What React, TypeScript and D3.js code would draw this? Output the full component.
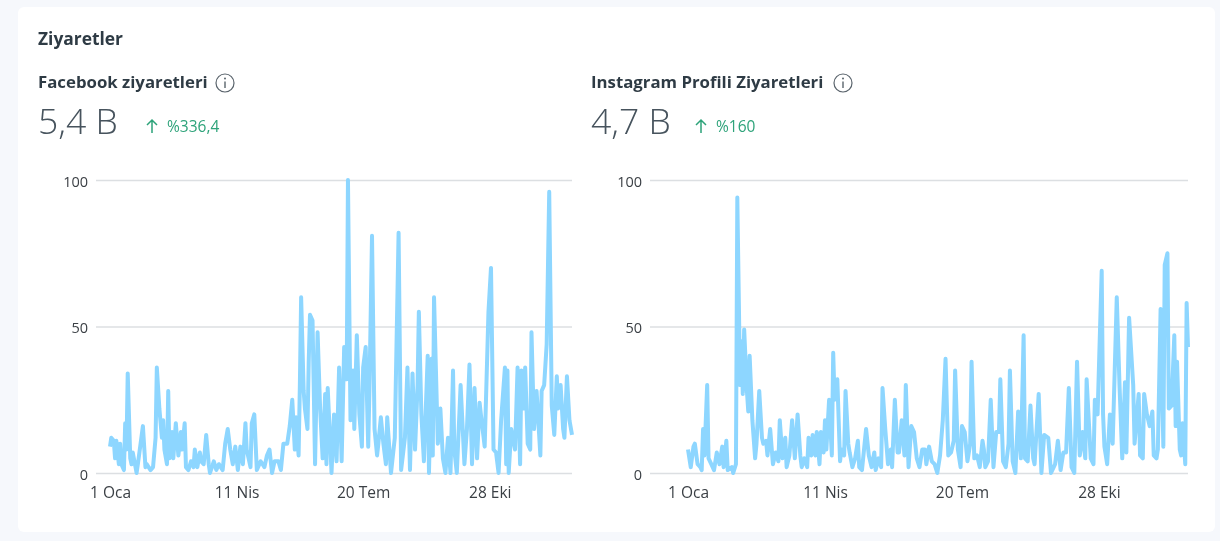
import React, { useEffect, useRef } from 'react'
import * as d3 from 'd3'

// days since 1 Oca (peaks and troughs)
const facebookDays = [0,1,3,4,5,7,8,9,11,12,13,14,16,17,18,21,22,26,28,29,32,34,36,37,39,41,42,43,45,46,47,49,50,52,54,56,57,59,60,62,64,66,67,69,71,72,74,76,78,79,82,84,86,89,91,93,95,97,99,101,103,105,107,108,111,112,114,116,118,119,122,124,126,128,130,133,135,137,140,142,144,146,147,149,150,151,153,154,156,157,158,160,161,162,164,166,168,170,171,172,174,175,177,179,181,183,185,187,188,190,192,193,195,197,199,200,202,204,205,207,209,211,212,214,216,218,219,222,225,228,230,233,235,237,239,241,243,244,246,248,251,252,254,255,256,259,261,263,265,267,269,271,272,274,277,280,282,284,286,288,290,292,293,296,299,301,303,305,307,309,312,313,314,315,317,320,322,324,325,327,328,330,332,333,335,337,340,341,343,345,347,349,351,353,354,356,358,359,361,363,365]
const facebookVisits = [9,12,11,5,11,3,10,3,1,17,8,34,5,3,7,0,3,16,2,3,1,2,12,36,22,12,18,8,3,28,5,14,5,17,6,14,8,17,2,1,4,2,8,2,7,4,3,13,3,0,4,1,3,1,10,15,8,3,9,1,9,3,17,8,2,17,20,1,3,4,2,6,8,0,4,4,1,10,10,16,25,8,19,6,30,60,28,22,15,38,54,52,28,3,48,22,5,27,3,29,10,0,20,4,36,4,43,32,100,18,35,15,47,20,9,36,43,9,29,81,15,6,10,19,10,3,19,0,12,82,1,12,36,1,34,8,30,55,20,4,40,0,39,6,60,10,22,5,0,12,0,35,8,0,30,3,15,37,3,29,5,24,20,9,55,70,8,7,0,18,36,3,35,0,15,8,36,3,35,22,36,10,8,48,15,28,6,28,30,44,96,23,13,33,22,30,15,12,33,18,13]

const instagramDays = [0,2,4,5,7,9,10,11,12,14,15,17,19,21,23,25,26,28,29,32,33,35,36,38,39,40,41,43,44,45,47,49,50,52,54,55,57,58,60,62,64,66,67,69,71,72,74,76,78,80,82,83,85,87,88,90,91,93,94,96,97,99,100,101,103,105,106,107,109,111,112,114,115,117,118,120,122,124,125,127,130,132,134,136,137,139,141,142,144,146,148,149,151,153,154,156,158,159,161,163,165,167,169,171,173,174,176,178,180,182,184,186,188,190,192,194,195,197,199,200,202,204,206,207,209,211,213,215,216,217,219,221,223,225,227,228,230,232,234,235,237,239,241,243,245,246,248,250,252,253,256,258,260,263,265,268,270,272,274,276,278,280,282,284,286,288,290,291,294,296,297,299,302,303,304,306,308,310,313,315,317,319,320,322,325,326,329,330,332,333,335,337,339,340,342,343,345,347,348,350,351,353,355,356,357,359,360,361,363,364,365]
const instagramVisits = [8,2,9,10,3,2,1,15,6,30,5,3,1,7,3,9,2,11,1,2,0,3,94,30,45,27,49,28,21,40,18,5,10,28,12,10,11,6,15,3,7,4,18,5,12,2,6,18,5,20,6,2,5,2,12,6,13,6,14,3,14,7,18,8,25,6,41,25,32,4,8,6,28,10,7,2,5,11,2,1,15,6,2,7,1,5,2,29,15,3,8,2,25,7,7,18,6,30,2,16,14,5,2,8,8,3,9,4,3,0,6,18,39,6,7,11,35,8,2,16,14,4,10,38,5,6,2,11,8,2,4,25,2,14,14,32,4,2,10,35,4,0,21,5,47,5,4,23,5,3,27,0,13,12,0,3,11,1,7,7,29,2,0,38,6,14,5,32,5,3,25,20,69,20,9,3,20,10,60,30,5,31,7,53,30,10,27,6,5,27,20,16,21,6,5,8,56,9,71,75,22,23,47,16,38,8,6,17,3,58,43]

const dayTicks = [0, 100, 200, 300]
const dayLabels = ['1 Oca', '11 Nis', '20 Tem', '28 Eki']
const valueTicks = [0, 50, 100]

const FONT = '"Open Sans", "Noto Sans", sans-serif'

function Panel({ x0, x1, gridLeft, days, values, title, total, change, changeX, iconX }: any) {
  const ref = useRef<SVGGElement>(null)

  useEffect(() => {
    const g = d3.select(ref.current)
    g.selectAll('*').remove()

    const x = d3.scaleLinear().domain([0, 365]).range([x0, x1])
    const y = d3.scaleLinear().domain([0, 100]).range([473, 180])

    const yAxis = d3.axisLeft(y).tickValues(valueTicks).tickSize(gridLeft - x1).tickPadding(8)
    const yG = g.append('g').attr('transform', 'translate(' + gridLeft + ',0)').call(yAxis as any)
    yG.select('.domain').remove()
    yG.selectAll('line').attr('stroke', '#dcdfe2').attr('stroke-width', 1.4)
    yG.selectAll('text')
      .attr('dy', '0.42em')
      .attr('font-family', FONT).attr('font-size', 14.5).attr('fill', '#3a3f44')

    const xAxis = d3.axisBottom(x).tickValues(dayTicks)
      .tickFormat((d, i) => dayLabels[i]).tickSize(0).tickPadding(0)
    const xG = g.append('g').attr('transform', 'translate(0,482)').call(xAxis as any)
    xG.select('.domain').remove()
    xG.selectAll('text')
      .attr('dy', '1em')
      .attr('font-family', FONT).attr('font-size', 15.5).attr('fill', '#3a3f44')

    const line = d3.line<number>().x((d, i) => x(days[i])).y(d => y(d))
    g.append('path')
      .attr('d', line(values))
      .attr('fill', 'none')
      .attr('stroke', '#8dd6ff')
      .attr('stroke-width', 4)
      .attr('stroke-linejoin', 'round')
  }, [])

  const left = x0 === 110 ? 38 : 591
  return (
    <g fontFamily={FONT}>
      <text x={left} y={88} fontSize={16.8} fontWeight={700} fill="#2f3b44">{title}</text>
      <circle cx={iconX} cy={83} r={9} fill="none" stroke="#5a646c" strokeWidth={1.2} />
      <circle cx={iconX} cy={78.5} r={1} fill="#5a646c" />
      <line x1={iconX} x2={iconX} y1={81.5} y2={88} stroke="#5a646c" strokeWidth={1.4} />
      <text x={left} y={134} fontSize={35.5} fontWeight={300} fill="#46535d">{total}</text>
      <path
        d={`M${changeX} 133V120M${changeX - 5} 125L${changeX} 120L${changeX + 5} 125`}
        fill="none" stroke="#2ea37a" strokeWidth={1.5}
      />
      <text x={changeX + 15} y={132} fontSize={15.5} fill="#2ea37a">{change}</text>
      <g ref={ref} />
    </g>
  )
}

export default function App() {
  return (
    <svg width={1220} height={541} style={{ position: 'absolute', left: 0, top: 0 }}>
      <defs>
        <filter id="soft" x="0" y="0" width="100%" height="100%">
          <feGaussianBlur stdDeviation="0.45" />
        </filter>
      </defs>
      <g filter="url(#soft)">
        <rect width={1220} height={541} fill="#f6f8fc" />
        <rect x={18} y={7} width={1197} height={525} rx={6} fill="#ffffff" />
        <text x={38} y={45} fontFamily={FONT} fontSize={17.4} fontWeight={700} fill="#2f3b44">Ziyaretler</text>
        <Panel x0={110} x1={572} gridLeft={96} days={facebookDays} values={facebookVisits}
          title="Facebook ziyaretleri" total="5,4 B" change="%336,4" changeX={152} iconX={225} />
        <Panel x0={688} x1={1188} gridLeft={650} days={instagramDays} values={instagramVisits}
          title="Instagram Profili Ziyaretleri" total="4,7 B" change="%160" changeX={701} iconX={843} />
      </g>
    </svg>
  )
}
